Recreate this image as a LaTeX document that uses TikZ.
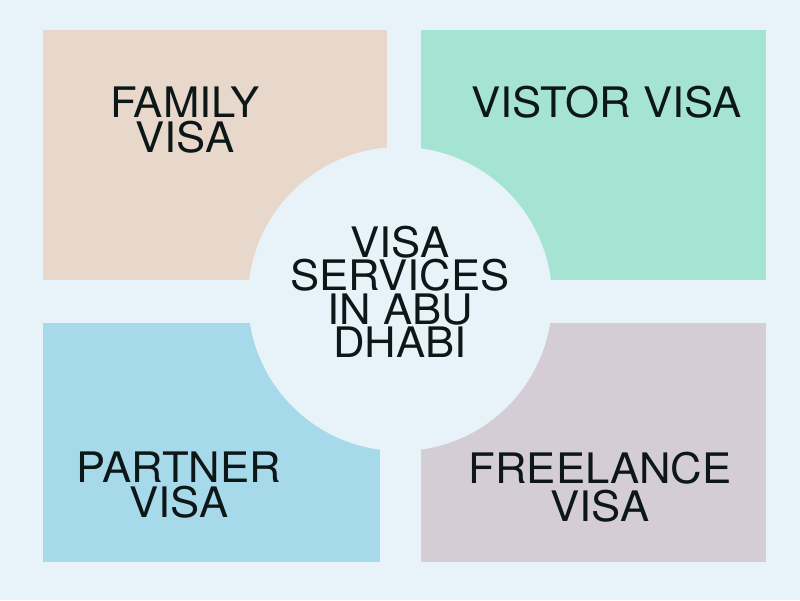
\documentclass[tikz,border=0pt]{standalone}
\usepackage{fontspec}
\setmainfont{TeX Gyre Heros}[FakeStretch=1.04]
\definecolor{bgc}{HTML}{E8F3F9}
\definecolor{beige}{HTML}{E8D8CC}
\definecolor{mint}{HTML}{A5E3D3}
\definecolor{skyb}{HTML}{A6D9EA}
\definecolor{lilac}{HTML}{D4CDD6}
\definecolor{ink}{HTML}{0D1717}
\begin{document}
\begin{tikzpicture}[x=1pt,y=-1pt,
  panel/.style={draw=none},
  lbl/.style={inner sep=0pt,outer sep=0pt,align=center,text=ink,anchor=center},
  big/.style={font=\fontsize{42}{#1}\selectfont}]
\fill[bgc] (0,0) rectangle (800,600);
\useasboundingbox (0,0) rectangle (800,600);
\fill[beige,panel] (43,30) rectangle (387,280);
\fill[mint,panel] (421,30) rectangle (766,280);
\fill[skyb,panel] (43,323) rectangle (380,562);
\fill[lilac,panel] (421,323) rectangle (766,562);
\fill[bgc] (400,299) circle[radius=152];
\node[lbl,big=35] (family) at (185,120.5) {FAMILY\\VISA};
\node[lbl,big=35] (visitor) at (606.5,102.5) {VISTOR VISA};
\node[lbl,big=33.5] (center) at (400,292) {VISA\\SERVICES\\IN ABU\\DHABI};
\node[lbl,big=35] (partner) at (179,485.5) {PARTNER\\VISA};
\node[lbl,big=38] (freelance) at (600,487.5) {FREELANCE\\VISA};
\end{tikzpicture}
\end{document}
